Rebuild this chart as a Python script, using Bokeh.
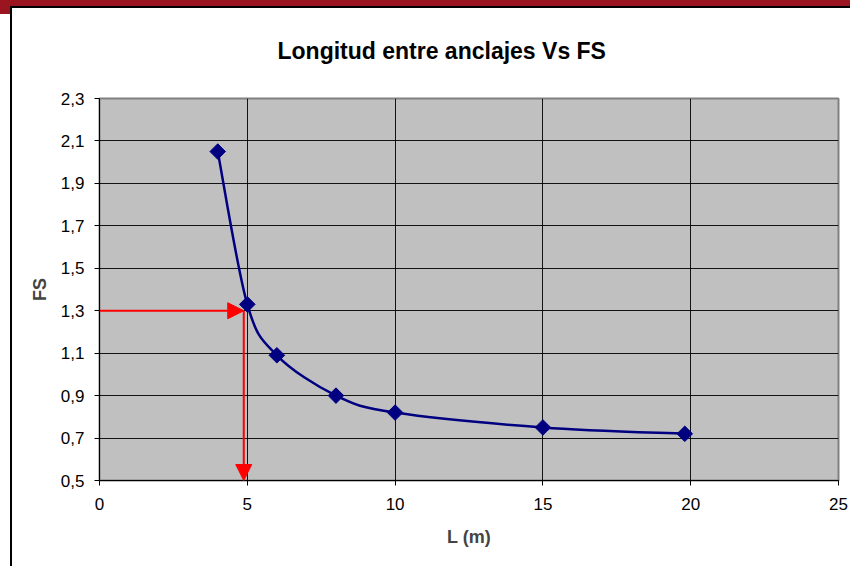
from bokeh.plotting import figure
from bokeh.models import Arrow, NormalHead, FixedTicker, Range1d, Title
from bokeh.embed import file_html
from bokeh.resources import INLINE
import numpy as np

# ---- data ----
L_m = [4, 5, 6, 8, 10, 15, 19.8]
FS = [2.05, 1.33, 1.09, 0.90, 0.82, 0.75, 0.72]
x_ticks = [0, 5, 10, 15, 20, 25]
y_ticks = [0.5, 0.7, 0.9, 1.1, 1.3, 1.5, 1.7, 1.9, 2.1, 2.3]
y_tick_labels = {v: f"{v:.1f}".replace(".", ",") for v in y_ticks}
design_FS = 1.3
design_L = 4.88

FONT = "Liberation Sans"

p = figure(width=850, height=566, output_backend="svg", toolbar_location=None,
           x_range=Range1d(0, 25), y_range=Range1d(0.5, 2.3),
           min_border_left=99, min_border_right=12, min_border_top=98, min_border_bottom=86)
p.background_fill_color = "#C0C0C0"
p.border_fill_color = None
p.outline_line_color = "#808080"
p.outline_line_width = 2

# page decoration (red top bar, chart box border) drawn as CSS background of the figure host
p.styles = {
    "background-color": "white",
    "background-image": ("linear-gradient(#9A1520,#9A1520), linear-gradient(#9A1520,#9A1520), "
                         "linear-gradient(black,black), linear-gradient(black,black)"),
    "background-size": "850px 6px, 10px 14px, 2px 560px, 840px 2px",
    "background-position": "0px 0px, 0px 0px, 10px 6px, 10px 6px",
    "background-repeat": "no-repeat",
}

# title
p.title = Title(text="Longitud entre anclajes Vs FS", align="left", offset=178,
                text_font=FONT, text_font_size="23px", text_font_style="bold",
                text_color="black", standoff=69)

for ax in (p.xaxis[0], p.yaxis[0]):
    ax.axis_line_color = "black"
    ax.axis_line_width = 1
    ax.major_tick_line_color = "black"
    ax.major_tick_out = 5
    ax.major_tick_in = 0
    ax.minor_tick_line_color = None
    ax.major_label_text_font = FONT
    ax.major_label_text_font_size = "17px"
    ax.major_label_text_color = "black"
    ax.axis_label_text_font = FONT
    ax.axis_label_text_font_size = "18px"
    ax.axis_label_text_font_style = "bold"

p.xaxis.ticker = FixedTicker(ticks=x_ticks)
p.yaxis.ticker = FixedTicker(ticks=y_ticks)
p.yaxis.major_label_overrides = y_tick_labels
p.xaxis.axis_label = "L (m)"
p.yaxis.axis_label = "FS"
p.xaxis.major_label_standoff = 12
p.yaxis.major_label_standoff = 10
p.xaxis.axis_label_standoff = 14
p.yaxis.axis_label_standoff = 8

p.grid.grid_line_color = "black"
p.grid.grid_line_width = 1
p.grid.grid_line_alpha = 0.9

# smoothed curve (Bezier segments through data points)
xs = np.array(L_m, dtype=float)
ys = np.array(FS, dtype=float)
n = len(xs)
x0, y0, x1, y1, cx0, cy0, cx1, cy1 = ([] for _ in range(8))
for i in range(n - 1):
    pm = (xs[max(i - 1, 0)], ys[max(i - 1, 0)])
    pa = (xs[i], ys[i])
    pb = (xs[i + 1], ys[i + 1])
    pp = (xs[min(i + 2, n - 1)], ys[min(i + 2, n - 1)])
    x0.append(pa[0]); y0.append(pa[1]); x1.append(pb[0]); y1.append(pb[1])
    cx0.append(pa[0] + (pb[0] - pm[0]) / 6); cy0.append(pa[1] + (pb[1] - pm[1]) / 6)
    cx1.append(pb[0] - (pp[0] - pa[0]) / 6); cy1.append(pb[1] - (pp[1] - pa[1]) / 6)
p.bezier(x0=x0, y0=y0, x1=x1, y1=y1, cx0=cx0, cy0=cy0, cx1=cx1, cy1=cy1,
         line_color="#000080", line_width=2.5)
p.scatter(L_m, FS, marker="square", angle=np.pi / 4, size=11,
          fill_color="#000080", line_color="#000080")

# red arrows
p.add_layout(Arrow(end=NormalHead(size=16, fill_color="red", line_color="red"),
                   x_start=0, y_start=design_FS, x_end=design_L, y_end=design_FS,
                   line_color="red", line_width=2))
p.add_layout(Arrow(end=NormalHead(size=16, fill_color="red", line_color="red"),
                   x_start=design_L, y_start=design_FS, x_end=design_L, y_end=0.5,
                   line_color="red", line_width=2))

open("out.html", "w").write(file_html(p, INLINE))
